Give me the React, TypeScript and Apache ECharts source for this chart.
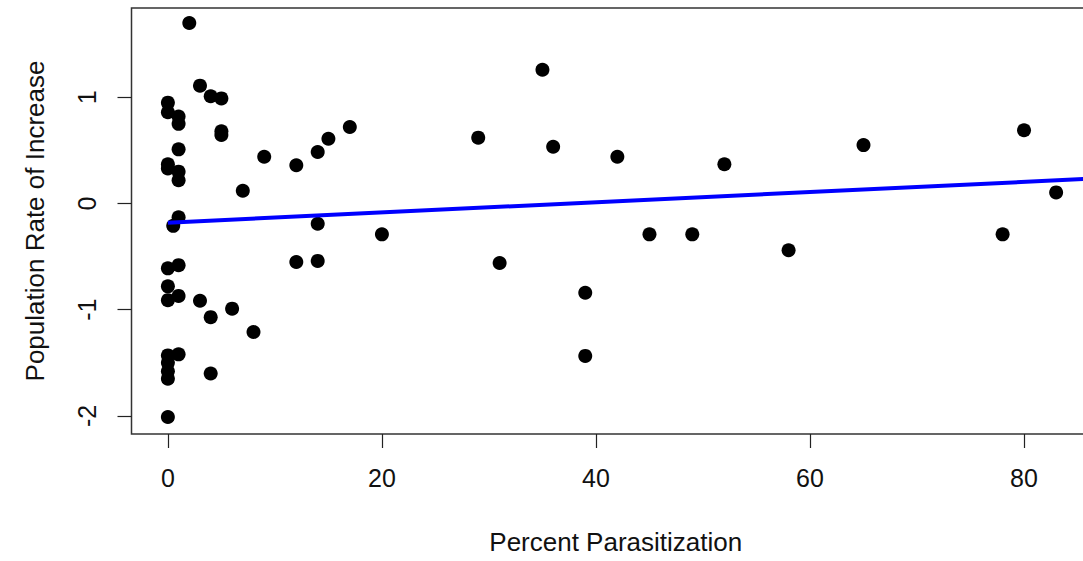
import React, { useEffect, useRef } from "react";
import * as echarts from "echarts";

const xValues = [
  2, 3, 4, 5, 0, 0, 1, 1, 5, 5, 1, 0, 0, 1, 1, 9, 7, 12, 14, 15, 17,
  1, 0.5, 14, 20, 0, 1, 12, 14, 0, 0, 1, 3, 4, 6, 8, 1, 0, 0, 0, 0, 4, 0,
  35, 29, 36, 42, 52, 45, 49, 31, 39, 39, 65, 58, 80, 78, 83,
];
const yValues = [
  1.7, 1.11, 1.01, 0.99, 0.95, 0.86, 0.82, 0.75, 0.68, 0.645, 0.51, 0.37, 0.33, 0.3, 0.22, 0.44, 0.12, 0.36, 0.485, 0.61, 0.72,
  -0.13, -0.21, -0.19, -0.29, -0.61, -0.58, -0.55, -0.54, -0.78, -0.91, -0.87, -0.915, -1.07, -0.99, -1.21, -1.42, -1.43, -1.5, -1.58, -1.65, -1.6, -2.01,
  1.26, 0.62, 0.535, 0.44, 0.37, -0.29, -0.29, -0.56, -0.84, -1.435, 0.55, -0.44, 0.69, -0.29, 0.105,
];
const fitX = [0, 90];
const fitY = [-0.18, 0.252];
const xTicks = [0, 20, 40, 60, 80];
const yTicks = [-2, -1, 0, 1];

export default function App() {
  const ref = useRef<HTMLDivElement>(null);
  useEffect(() => {
    if (!ref.current) return;
    const chart = echarts.init(ref.current, undefined, { renderer: "svg" });
    const font = "Liberation Sans, Arial, sans-serif";
    chart.setOption({
      animation: false,
      backgroundColor: "#fff",
      grid: {
        left: 131.5,
        top: 8,
        right: 20,
        bottom: 127,
        show: true,
        borderColor: "#333",
        borderWidth: 1.5,
        backgroundColor: "transparent",
      },
      xAxis: {
        type: "value",
        min: -3.4,
        max: 87.1,
        name: "Percent Parasitization",
        nameLocation: "middle",
        nameGap: 95,
        nameTextStyle: { fontFamily: font, fontSize: 26, color: "#111" },
        axisLine: { show: false, onZero: false },
        splitLine: { show: false },
        axisTick: {
          show: true,
          inside: false,
          length: 14,
          lineStyle: { color: "#222", width: 1.2 },
          customValues: xTicks,
        },
        axisLabel: {
          margin: 31,
          fontFamily: font,
          fontSize: 25,
          color: "#111",
          customValues: xTicks,
        },
      },
      yAxis: {
        type: "value",
        min: -2.17,
        max: 1.841,
        name: "Population Rate of Increase",
        nameLocation: "middle",
        nameGap: 84,
        nameRotate: 90,
        nameTextStyle: { fontFamily: font, fontSize: 26, color: "#111" },
        axisLine: { show: false, onZero: false },
        splitLine: { show: false },
        axisTick: {
          show: true,
          inside: false,
          length: 14,
          lineStyle: { color: "#222", width: 1.2 },
          customValues: yTicks,
        },
        axisLabel: {
          margin: 32,
          rotate: 90,
          fontFamily: font,
          fontSize: 25,
          color: "#111",
          customValues: yTicks,
        },
      },
      series: [
        {
          type: "scatter",
          data: xValues.map((x, i) => [x, yValues[i]]),
          symbol: "circle",
          symbolSize: 14,
          itemStyle: { color: "#000", opacity: 1 },
          z: 3,
        },
        {
          type: "line",
          data: fitX.map((x, i) => [x, fitY[i]]),
          showSymbol: false,
          lineStyle: { color: "#0000ff", width: 4 },
          clip: true,
          z: 4,
        },
      ],
    });
    return () => chart.dispose();
  }, []);
  return (
    <div
      style={{
        position: "absolute",
        left: 0,
        top: 0,
        width: 1083,
        height: 561,
        overflow: "hidden",
        background: "#fff",
      }}
    >
      <div ref={ref} style={{ width: 1120, height: 561 }} />
    </div>
  );
}
